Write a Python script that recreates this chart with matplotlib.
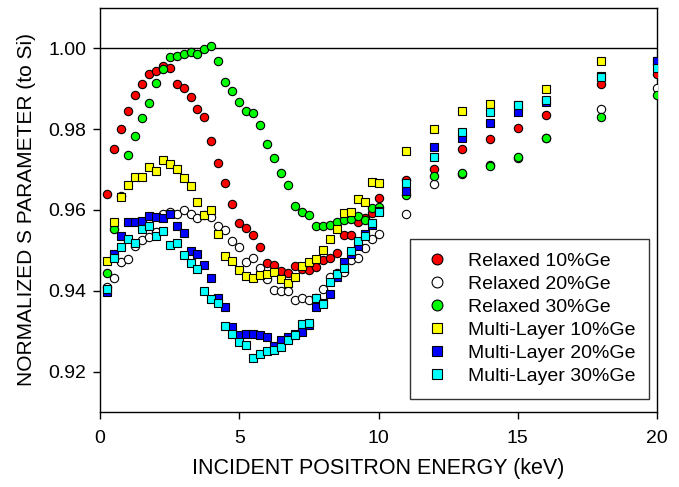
import matplotlib
matplotlib.use("Agg")
from matplotlib import pyplot as plt

plt.rcParams["font.family"] = ["Liberation Sans", "DejaVu Sans"]

# incident positron energy (keV)
energy = [0.25, 0.5, 0.75, 1.0, 1.25, 1.5, 1.75, 2.0, 2.25, 2.5, 2.75, 3.0,
          3.25, 3.5, 3.75, 4.0, 4.25, 4.5, 4.75, 5.0, 5.25, 5.5, 5.75, 6.0,
          6.25, 6.5, 6.75, 7.0, 7.25, 7.5, 7.75, 8.0, 8.25, 8.5, 8.75, 9.0,
          9.25, 9.5, 9.75, 10.0, 11, 12, 13, 14, 15, 16, 18, 20]

relaxed10 = [0.9640, 0.9750, 0.9800, 0.9844, 0.9884, 0.9911, 0.9936, 0.9944,
             0.9957, 0.9951, 0.9911, 0.9903, 0.9879, 0.9849, 0.9829, 0.9770,
             0.9717, 0.9668, 0.9615, 0.9568, 0.9556, 0.9538, 0.9509, 0.9469,
             0.9463, 0.9450, 0.9444, 0.9461, 0.9455, 0.9452, 0.9458, 0.9476,
             0.9482, 0.9493, 0.9539, 0.9539, 0.9570, 0.9580, 0.9592, 0.9630,
             0.9675, 0.9702, 0.9751, 0.9776, 0.9804, 0.9834, 0.9912, 0.9937]

relaxed20 = [0.9410, 0.9432, 0.9472, 0.9478, 0.9510, 0.9525, 0.9533, 0.9545,
             0.9590, 0.9595, 0.9591, 0.9600, 0.9591, 0.9580, 0.9588, 0.9583,
             0.9561, 0.9550, 0.9523, 0.9508, 0.9471, 0.9482, 0.9457, 0.9428,
             0.9401, 0.9400, 0.9400, 0.9377, 0.9383, 0.9377, 0.9383, 0.9404,
             0.9433, 0.9445, 0.9447, 0.9475, 0.9482, 0.9507, 0.9527, 0.9540,
             0.9591, 0.9664, 0.9690, 0.9712, 0.9728, 0.9778, 0.9849, 0.9903]

relaxed30 = [0.9445, 0.9553, 0.9635, 0.9736, 0.9784, 0.9827, 0.9866, 0.9915,
             0.9949, 0.9978, 0.9981, 0.9985, 0.9991, 0.9987, 0.9998, 1.0007,
             0.9970, 0.9916, 0.9895, 0.9867, 0.9844, 0.9839, 0.9810, 0.9763,
             0.9728, 0.9691, 0.9661, 0.9611, 0.9595, 0.9588, 0.9561, 0.9561,
             0.9564, 0.9570, 0.9575, 0.9578, 0.9585, 0.9576, 0.9605, 0.9607,
             0.9637, 0.9683, 0.9692, 0.9710, 0.9730, 0.9777, 0.9831, 0.9884]

multi10 = [0.9473, 0.9570, 0.9632, 0.9661, 0.9681, 0.9681, 0.9706, 0.9697,
           0.9723, 0.9713, 0.9701, 0.9679, 0.9659, 0.9619, 0.9587, 0.9599,
           0.9541, 0.9487, 0.9473, 0.9452, 0.9437, 0.9431, 0.9439, 0.9442,
           0.9446, 0.9428, 0.9419, 0.9434, 0.9461, 0.9471, 0.9478, 0.9502,
           0.9528, 0.9553, 0.9592, 0.9595, 0.9628, 0.9621, 0.9670, 0.9666,
           0.9746, 0.9801, 0.9845, 0.9863, 0.9860, 0.9900, 0.9970, 0.9970]

multi20 = [0.9398, 0.9490, 0.9535, 0.9570, 0.9570, 0.9574, 0.9586, 0.9583,
           0.9581, 0.9591, 0.9561, 0.9543, 0.9498, 0.9491, 0.9465, 0.9431,
           0.9383, 0.9359, 0.9310, 0.9291, 0.9293, 0.9293, 0.9291, 0.9285,
           0.9263, 0.9278, 0.9285, 0.9293, 0.9297, 0.9315, 0.9359, 0.9370,
           0.9393, 0.9435, 0.9472, 0.9490, 0.9510, 0.9540, 0.9563, 0.9598,
           0.9648, 0.9756, 0.9778, 0.9815, 0.9842, 0.9868, 0.9932, 0.9970]

multi30 = [0.9405, 0.9480, 0.9508, 0.9527, 0.9519, 0.9552, 0.9561, 0.9535,
           0.9547, 0.9513, 0.9519, 0.9488, 0.9469, 0.9455, 0.9400, 0.9379,
           0.9369, 0.9313, 0.9293, 0.9273, 0.9266, 0.9233, 0.9244, 0.9252,
           0.9254, 0.9260, 0.9279, 0.9291, 0.9318, 0.9320, 0.9382, 0.9368,
           0.9423, 0.9441, 0.9456, 0.9498, 0.9524, 0.9535, 0.9567, 0.9595,
           0.9666, 0.9731, 0.9793, 0.9842, 0.9859, 0.9872, 0.9929, 0.9952]

series = [
    ("Relaxed 10%Ge", relaxed10, "o", "#ff0000"),
    ("Relaxed 20%Ge", relaxed20, "o", "#ffffff"),
    ("Relaxed 30%Ge", relaxed30, "o", "#00ff00"),
    ("Multi-Layer 10%Ge", multi10, "s", "#ffff00"),
    ("Multi-Layer 20%Ge", multi20, "s", "#0000ff"),
    ("Multi-Layer 30%Ge", multi30, "s", "#00ffff"),
]

fig = plt.figure(figsize=(6.79, 4.87), dpi=100)
ax = fig.add_axes([100 / 679, 1 - 412 / 487, 557 / 679, 404 / 487])

ax.axhline(1.0, color="black", lw=1.0, zorder=1)

for label, vals, mk, col in series:
    ax.plot(energy, vals, linestyle="none", marker=mk, markersize=6 if mk == "o" else 5.6,
            markerfacecolor=col, markeredgecolor="black", markeredgewidth=0.8,
            label=label, zorder=3)

ax.set_xlim(0, 20)
ax.set_ylim(0.91, 1.01)
ax.set_xticks([0, 5, 10, 15, 20])
ax.set_yticks([0.92, 0.94, 0.96, 0.98, 1.00])
ax.set_yticklabels(["0.92", "0.94", "0.96", "0.98", "1.00"])
ax.tick_params(direction="out", length=5, width=1, labelsize=14)
ax.tick_params(axis="x", pad=8)
ax.tick_params(axis="y", pad=5)
for sp in ax.spines.values():
    sp.set_linewidth(1.0)

ax.set_xlabel("INCIDENT POSITRON ENERGY (keV)", fontsize=15.5, labelpad=8)
ax.set_ylabel("NORMALIZED S PARAMETER (to Si)", fontsize=15, labelpad=9)

leg = ax.legend(loc="lower right", bbox_to_anchor=(0.9856, 0.033), borderaxespad=0,
                fontsize=14, frameon=True, fancybox=False, edgecolor="black",
                labelspacing=0.28, handlelength=1.4, handletextpad=0.9,
                borderpad=0.7, markerscale=1.3)
leg.get_frame().set_linewidth(1.0)

fig.savefig("out.png", dpi=100)
